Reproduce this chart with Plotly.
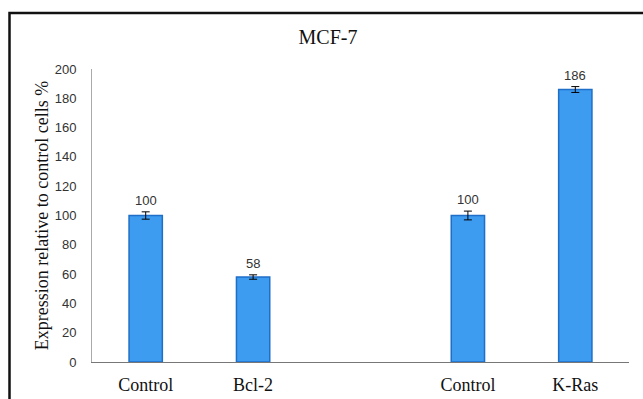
import plotly.graph_objects as go

positions = [0, 1, 3, 4]
bar_labels = ["Control", "Bcl-2", "Control", "K-Ras"]
values = [100, 58, 100, 186]
errors = [2.5, 1.5, 3, 2]
y_ticks = [0, 20, 40, 60, 80, 100, 120, 140, 160, 180, 200]

L, R, T, B = 92, 14, 69, 37
W, H = 643, 399
pw, ph = W - L - R, H - T - B

fig = go.Figure()
fig.add_trace(go.Bar(
    x=positions, y=values,
    marker=dict(color="#3d9bf0", line=dict(color="#1f6fc8", width=1.5)),
    error_y=dict(type="data", array=errors, visible=True, color="#000000", thickness=1, width=4),
    showlegend=False, hoverinfo="skip",
))

for p, v, e in zip(positions, values, errors):
    fig.add_annotation(x=p, y=v + e, text=str(v), showarrow=False, yanchor="bottom", yshift=2,
                       font=dict(family="Liberation Sans", size=13, color="#333333"))

serif = "Liberation Serif, Times New Roman, serif"
fig.update_layout(
    width=W, height=H,
    margin=dict(l=L, r=R, t=T, b=B, autoexpand=False),
    paper_bgcolor="white", plot_bgcolor="white",
    bargap=0.69,
    title=dict(text="MCF-7", x=328 / W, xanchor="center", y=1 - 37 / H, yanchor="middle",
               font=dict(family=serif, size=20, color="#111111")),
    xaxis=dict(range=[-0.5, 4.5], tickmode="array", tickvals=positions, ticktext=bar_labels,
               showline=True, linecolor="#777777", linewidth=1, ticks="", showgrid=False,
               zeroline=False, ticklabelstandoff=6, automargin=False,
               tickfont=dict(family=serif, size=18, color="#111111")),
    yaxis=dict(range=[0, 200], tickmode="array", tickvals=y_ticks,
               showline=True, linecolor="#aaaaaa", linewidth=1, ticks="", showgrid=False,
               zeroline=False, ticklabelstandoff=12, automargin=False,
               tickfont=dict(family="Liberation Sans", size=13, color="#333333"),
               title=dict(text="Expression relative to control cells %", standoff=1,
                          font=dict(family=serif, size=18, color="#111111"))),
)

fig.add_shape(type="rect", xref="paper", yref="paper",
              x0=(9.5 - L) / pw, x1=(W + 10 - L) / pw,
              y0=-(H + 10 - (H - B)) / ph, y1=(H - B - 13) / ph,
              line=dict(color="#111111", width=2.5), fillcolor="rgba(0,0,0,0)", layer="above")

fig.write_html("out.html", config={"displayModeBar": False},
               post_script="document.body.style.margin='0px';")
